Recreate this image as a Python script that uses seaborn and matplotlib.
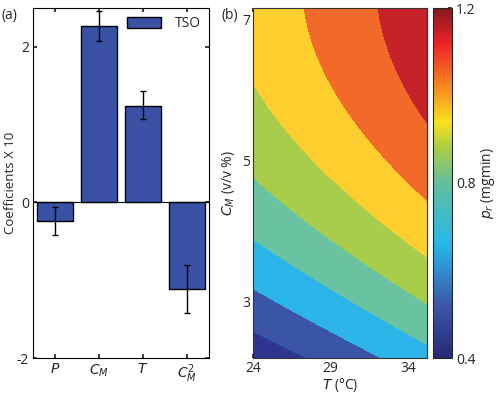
import numpy as np
import pandas as pd
import matplotlib
matplotlib.use("Agg")
import matplotlib.pyplot as plt
import seaborn as sns
from matplotlib.colors import LinearSegmentedColormap, Normalize
from matplotlib.cm import ScalarMappable

# ---- data: panel (a) ----
terms = ["$P$", "$C_M$", "$T$", "$C^2_M$"]
coef = [-0.245, 2.27, 1.24, -1.11]
err_low = [0.17, 0.19, 0.17, 0.31]
err_high = [0.18, 0.19, 0.19, 0.30]

# ---- data: panel (b) contour boundary points ----
pt_T = [24, 24, 24, 24, 24, 35.2, 35.2, 35.2, 35.2, 35.2,
        27.35, 32.06, 27.3, 32.1, 28.8, 33.3, 29, 29, 29]
pt_C = [2.57, 3.2, 3.875, 4.75, 6.1, 2.38, 3.0, 3.63, 4.44, 5.58,
        7.16, 7.16, 2.2, 2.2, 4.73, 4.73, 3.99, 3.14, 2.63]
pt_p = [0.5, 0.6, 0.7, 0.8, 0.9, 0.7, 0.8, 0.9, 1.0, 1.1,
        1.0, 1.1, 0.5, 0.6, 0.9, 1.0, 0.8, 0.7, 0.6]
levels = [0.4, 0.5, 0.6, 0.7, 0.8, 0.9, 1.0, 1.1, 1.2]
band_colors = ['#2e3590', '#3a55a5', '#2bb5e8', '#69c2a0', '#a8cd4b',
               '#fecd2e', '#f26a2a', '#c6222a']
cbar_ticks = [0.4, 0.8, 1.2]

sns.set_theme(style="white")
plt.rcParams['font.family'] = ['Open Sans', 'DejaVu Sans']
plt.rcParams['mathtext.fontset'] = 'dejavusans'
fs = 10

fig = plt.figure(figsize=(4.98, 3.95), dpi=100)
bot, top = 1 - 358 / 395, 1 - 8 / 395
ax1 = fig.add_axes([33 / 498, bot, (209 - 33) / 498, top - bot])
ax2 = fig.add_axes([253 / 498, bot, (427 - 253) / 498, top - bot])
cax = fig.add_axes([433 / 498, bot, 19 / 498, top - bot])

# ---- panel (a) ----
df = pd.DataFrame({"term": terms, "coef": coef})
sns.barplot(data=df, x="term", y="coef", ax=ax1, color="#3a52a6",
            saturation=1, edgecolor="black", linewidth=1, width=0.8,
            label="TSO")
ax1.errorbar(np.arange(len(terms)), coef, yerr=[err_low, err_high],
             fmt="none", ecolor="black", elinewidth=1, capsize=2.5, capthick=1)
ax1.set_xlim(-0.5, 3.5)
ax1.set_ylim(-2, 2.5)
ax1.set_yticks([-2, 0, 2])
ax1.set_yticklabels(["-2", "0", "2"])
ax1.set_xlabel("")
ax1.set_ylabel("Coefficients X 10", fontsize=9.5, labelpad=0)
ax1.tick_params(direction="in", top=True, right=True, length=3,
                labelsize=fs, pad=3, bottom=True, left=True)
ax1.axhline(0, color="black", lw=0.8)
leg = ax1.legend(loc="upper right", frameon=False, fontsize=fs,
                 handlelength=2.4, handleheight=0.8, borderaxespad=0.2,
                 handletextpad=1.0)
for sp in ax1.spines.values():
    sp.set_color("black"); sp.set_linewidth(0.8)
fig.text(1 / 498, 1 - 15 / 395, "(a)", fontsize=fs, va="center")

# ---- panel (b) ----
T = np.array(pt_T); C = np.array(pt_C); P = np.array(pt_p)
A = np.column_stack([np.ones_like(T), T, C, T**2, C**2, T * C])
beta, *_ = np.linalg.lstsq(A, P, rcond=None)
tg = np.linspace(24, 35.2, 200)
cg = np.linspace(2.2, 7.16, 200)
TT, CC = np.meshgrid(tg, cg)
ZZ = (beta[0] + beta[1] * TT + beta[2] * CC + beta[3] * TT**2
      + beta[4] * CC**2 + beta[5] * TT * CC)
ZZ = np.clip(ZZ, 0.401, 1.199)
ax2.contourf(TT, CC, ZZ, levels=levels, colors=band_colors)
ax2.set_xlim(24, 35.2)
ax2.set_ylim(2.2, 7.16)
ax2.set_xticks([24, 29, 34])
ax2.set_yticks([3, 5, 7])
ax2.tick_params(direction="in", top=True, right=True, length=3,
                labelsize=fs, pad=2, bottom=True, left=True)
ax2.set_xlabel("$T$ (°C)", fontsize=fs, labelpad=0)
ax2.set_ylabel("$C_M$ (v/v %)", fontsize=fs, labelpad=4)
for sp in ax2.spines.values():
    sp.set_color("#333333"); sp.set_linewidth(0.8)
fig.text(221 / 498, 1 - 15 / 395, "(b)", fontsize=fs, va="center")

cmap = LinearSegmentedColormap.from_list("pr", [
    (0.0, '#262a74'), (0.15, '#3c57a7'), (0.325, '#27b7ea'),
    (0.5, '#63bf9e'), (0.6, '#abcd45'), (0.675, '#f9e21e'),
    (0.7625, '#f8941e'), (0.9, '#ec2227'), (1.0, '#86191c')])
sm = ScalarMappable(norm=Normalize(0.4, 1.2), cmap=cmap)
cb = fig.colorbar(sm, cax=cax)
cb.set_ticks(cbar_ticks)
cb.set_ticklabels(["0.4", "0.8", "1.2"])
cb.ax.tick_params(labelsize=fs, length=3, direction="in", pad=3)
cb.outline.set_linewidth(0.8)
cb.set_label("$p_r$ (mgmin)", fontsize=fs, labelpad=2)

fig.savefig("out.png", dpi=100)
